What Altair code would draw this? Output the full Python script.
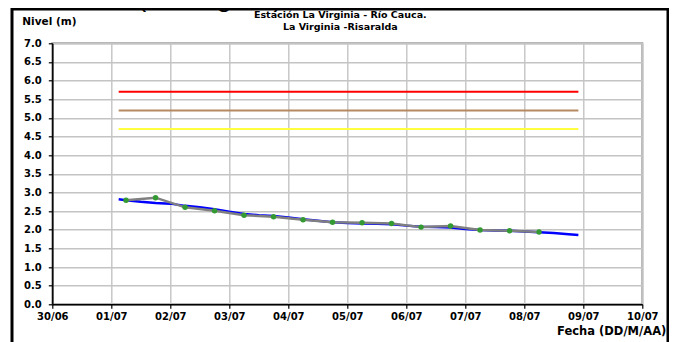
import altair as alt
import pandas as pd

# ---- data ----
blue_time = [
    "2011-07-01T03:00", "2011-07-01T06:00", "2011-07-01T12:00", "2011-07-01T18:00",
    "2011-07-02T00:00", "2011-07-02T06:00", "2011-07-02T12:00", "2011-07-02T18:00",
    "2011-07-03T00:00", "2011-07-03T06:00", "2011-07-03T12:00", "2011-07-03T18:00",
    "2011-07-04T00:00", "2011-07-04T06:00", "2011-07-04T12:00", "2011-07-04T18:00",
    "2011-07-05T00:00", "2011-07-05T06:00", "2011-07-05T12:00", "2011-07-05T18:00",
    "2011-07-06T00:00", "2011-07-06T06:00", "2011-07-06T12:00", "2011-07-06T18:00",
    "2011-07-07T00:00", "2011-07-07T06:00", "2011-07-07T12:00", "2011-07-07T18:00",
    "2011-07-08T00:00", "2011-07-08T06:00", "2011-07-08T12:00", "2011-07-08T18:00",
    "2011-07-08T22:00",
]
blue_level = [
    2.82, 2.79, 2.75, 2.72,
    2.70, 2.64, 2.60, 2.55,
    2.48, 2.42, 2.39, 2.37,
    2.33, 2.28, 2.24, 2.20,
    2.18, 2.17, 2.16, 2.15,
    2.11, 2.08, 2.07, 2.06,
    2.02, 1.99, 1.98, 1.97,
    1.95, 1.93, 1.91, 1.88,
    1.86,
]

obs_time = [
    "2011-07-01T06:00", "2011-07-01T18:00", "2011-07-02T06:00", "2011-07-02T18:00",
    "2011-07-03T06:00", "2011-07-03T18:00", "2011-07-04T06:00", "2011-07-04T18:00",
    "2011-07-05T06:00", "2011-07-05T18:00", "2011-07-06T06:00", "2011-07-06T18:00",
    "2011-07-07T06:00", "2011-07-07T18:00", "2011-07-08T06:00",
]
obs_level = [2.79, 2.86, 2.60, 2.51, 2.39, 2.35, 2.27, 2.20, 2.19, 2.17, 2.07, 2.10, 1.99, 1.97, 1.94]

alert_names = ["roja", "naranja", "amarilla"]
alert_levels = [5.7, 5.2, 4.7]
alert_colors = ["#FF0000", "#B58A62", "#FFFF40"]
alert_span = ["2011-07-01T03:00", "2011-07-08T22:00"]

tick_days = [(6, 30)] + [(7, d) for d in range(1, 11)]
y_ticks = [i * 0.5 for i in range(15)]

# ---- tables ----
blue_df = pd.DataFrame({"t": blue_time, "v": blue_level})
obs_df = pd.DataFrame({"t": obs_time, "v": obs_level})
alert_df = pd.DataFrame(
    [{"t": t, "v": lv, "n": nm} for nm, lv in zip(alert_names, alert_levels) for t in alert_span]
)

FONT = "DejaVu Sans"

x_scale = alt.Scale(
    domain=[alt.DateTime(year=2011, month=6, date=30), alt.DateTime(year=2011, month=7, date=10)],
    nice=False,
)
y_scale = alt.Scale(domain=[0, 7], nice=False)

x_axis = alt.Axis(
    values=[alt.DateTime(year=2011, month=m, date=d) for m, d in tick_days],
    format="%d/%m", title=None, labelFlush=False, labelOverlap=False,
    grid=True, tickSize=4, labelPadding=3,
)
y_axis = alt.Axis(
    values=y_ticks, format=".1f", title=None, labelFlush=False, labelOverlap=False,
    grid=True, tickSize=4, labelPadding=7,
)

X = alt.X("t:T", scale=x_scale, axis=x_axis)
Y = alt.Y("v:Q", scale=y_scale, axis=y_axis)

alerts = alt.Chart(alert_df).mark_line(strokeWidth=2).encode(
    x=X, y=Y,
    color=alt.Color("n:N", scale=alt.Scale(domain=alert_names, range=alert_colors), legend=None),
    detail="n:N",
)
blue = alt.Chart(blue_df).mark_line(color="#0000FF", strokeWidth=2.5).encode(x=X, y=Y)
gray = alt.Chart(obs_df).mark_line(color="#808080", strokeWidth=2.5).encode(x=X, y=Y)
pts = alt.Chart(obs_df).mark_circle(color="#339933", size=30, opacity=1).encode(x=X, y=Y)

def label(txt, x, y, size=10, align="left", weight="bold", baseline="middle", font=FONT):
    return alt.Chart(pd.DataFrame({"s": [txt]})).mark_text(
        font=font, fontSize=size, fontWeight=weight, align=align, baseline=baseline, color="black"
    ).encode(x=alt.value(x), y=alt.value(y), text="s:N")

title1 = label("Estación La Virginia  - Río Cauca.", 288, -28, size=9.5, align="center")
title2 = label("La Virginia -Risaralda", 288, -16, size=9.5, align="center")
ylab = label("Nivel (m)", -30, -21, size=10.5)
xlab = label("Fecha (DD/M/AA)", 614, 292, size=11.5, align="right", baseline="alphabetic")
toptitle = label("Río Cauca (La Virginia)", -50, -37, size=27, weight="normal",
                 baseline="alphabetic", font="Liberation Sans")

frame = alt.Chart(pd.DataFrame({"k": [0]})).mark_rect(
    filled=False, stroke="black", strokeWidth=3
).encode(x=alt.value(-40.3), x2=alt.value(615.7), y=alt.value(-34.3), y2=alt.value(320))

chart = alt.layer(
    frame, alerts, blue, gray, pts, title1, title2, ylab, xlab, toptitle
).properties(
    width=590, height=261,
    autosize=alt.AutoSizeParams(type="none"),
    padding={"left": 44.3, "top": 35.3, "right": 26.7, "bottom": 37.7},
    background="white",
).configure_axis(
    labelFont=FONT, labelFontWeight="bold", labelFontSize=10, labelColor="black",
    domainColor="black", domainWidth=1.5, tickColor="black", tickWidth=1.2,
    gridColor="#C4C4C4", gridWidth=1.4,
).configure_view(stroke="#A0A0A0", strokeWidth=2)

chart.save("out.html", embed_options={"renderer": "svg", "actions": False})
